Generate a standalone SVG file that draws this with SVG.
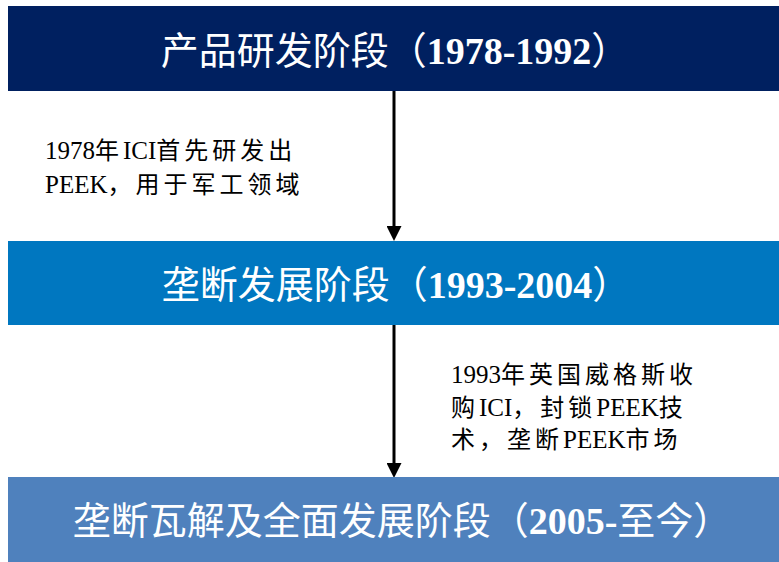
<svg xmlns="http://www.w3.org/2000/svg" width="779" height="562" viewBox="0 0 779 562">
<style>
.t{font-family:"Liberation Serif","Noto Sans CJK SC",serif;font-size:38px;fill:#fff;text-anchor:middle}
.t .n{font-weight:bold}
.a{font-family:"Liberation Serif","Noto Sans CJK SC",serif;font-size:25px;fill:#000}
.a .c{font-family:"Noto Sans CJK SC",sans-serif;font-size:24px;letter-spacing:4px}
.ln{stroke:#000;stroke-width:3;fill:none}
</style>
<defs>
<marker id="ah" markerWidth="5" markerHeight="5" refX="0" refY="2.5" orient="auto" markerUnits="strokeWidth">
<path d="M0,0 L5,2.5 L0,5 Z" fill="#000"/>
</marker>
</defs>
<rect width="779" height="562" fill="#fff"/>
<g id="connectors">
<line class="ln" x1="394" y1="91" x2="394" y2="226" marker-end="url(#ah)"/>
<line class="ln" x1="394" y1="325" x2="394" y2="463" marker-end="url(#ah)"/>
</g>
<g id="stage1">
<rect x="8" y="6" width="771" height="85" fill="#002060"/>
<text class="t" x="395" y="64">产品研发阶段（<tspan class="n">1978-1992</tspan>）</text>
</g>
<g id="stage2">
<rect x="8" y="241" width="771" height="84" fill="#0077C0"/>
<text class="t" x="396" y="298">垄断发展阶段（<tspan class="n">1993-2004</tspan>）</text>
</g>
<g id="stage3">
<rect x="8" y="477" width="771" height="85" fill="#4F81BD"/>
<text class="t" x="402" y="534">垄断瓦解及全面发展阶段（<tspan class="n">2005-</tspan>至今）</text>
</g>
<g id="note1">
<text class="a" x="45" y="159">1978<tspan class="c">年</tspan>ICI<tspan class="c">首先研发出</tspan></text>
<text class="a" x="45" y="193">PEEK<tspan class="c">，用于军工领域</tspan></text>
</g>
<g id="note2">
<text class="a" x="451" y="383">1993<tspan class="c">年英国威格斯收</tspan></text>
<text class="a" x="451" y="416"><tspan class="c">购</tspan>ICI<tspan class="c">，封锁</tspan>PEEK<tspan class="c">技</tspan></text>
<text class="a" x="451" y="448"><tspan class="c">术，垄断</tspan>PEEK<tspan class="c">市场</tspan></text>
</g>
</svg>
